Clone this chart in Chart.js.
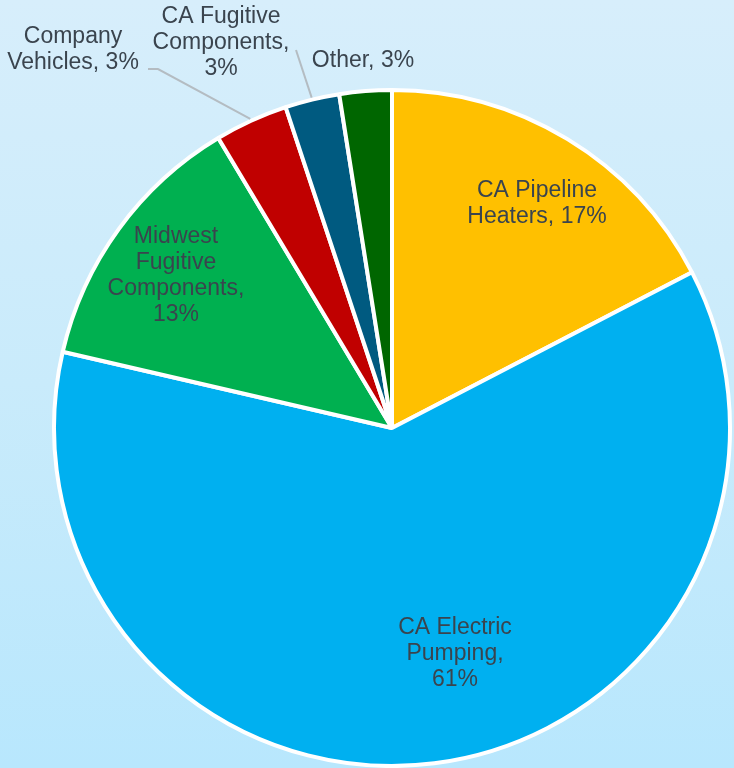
<!DOCTYPE html>
<html>
<head>
<meta charset="utf-8">
<script src="https://cdn.jsdelivr.net/npm/chart.js@4"></script>
<style>
  html, body { margin: 0; padding: 0; }
  body {
    width: 734px; height: 768px; overflow: hidden;
    background: linear-gradient(to bottom, #d7eefb 0%, #c9ebfb 50%, #b8e7fd 100%);
  }
  #wrap { width: 734px; height: 768px; }
</style>
</head>
<body>
<div id="wrap"><canvas id="chart"></canvas></div>
<script>
const categories = [
  "CA Pipeline Heaters",
  "CA Electric Pumping",
  "Midwest Fugitive Components",
  "Company Vehicles",
  "CA Fugitive Components",
  "Other"
];
const shares = [17.4, 61.3, 12.8, 3.5, 2.6, 2.5];
const percentLabels = ["17%", "61%", "13%", "3%", "3%", "3%"];
const colors = ["#ffc000", "#00b0f0", "#00b050", "#c00000", "#005a80", "#006600"];

// label text lines, offsets from pie centre (baseline of first line), leader on/off
const labelLayout = [
  { lines: ["CA Pipeline", "Heaters, 17%"], dx: 145, dy: -231 },
  { lines: ["CA Electric", "Pumping,", "61%"], dx: 63, dy: 206 },
  { lines: ["Midwest", "Fugitive", "Components,", "13%"], dx: -216, dy: -185 },
  { lines: ["Company", "Vehicles, 3%"], dx: -319, dy: -385, leader: [[-244, -359], [-234, -359]] },
  { lines: ["CA Fugitive", "Components,", "3%"], dx: -171, dy: -405, leader: [[-96, -378]] },
  { lines: ["Other, 3%"], dx: -29, dy: -361 }
];

const labelPlugin = {
  id: "pieLabels",
  afterDatasetsDraw(chart) {
    const ctx = chart.ctx;
    const arcs = chart.getDatasetMeta(0).data;
    ctx.save();
    ctx.font = "23px 'Liberation Sans', Arial, sans-serif";
    ctx.fillStyle = "#3a444e";
    ctx.textAlign = "center";
    ctx.textBaseline = "alphabetic";
    arcs.forEach((arc, i) => {
      const L = labelLayout[i];
      const cx = arc.x, cy = arc.y;
      L.lines.forEach((t, k) => {
        ctx.fillText(t, cx + L.dx, cy + L.dy + k * 26);
      });
      if (L.leader) {
        const mid = (arc.startAngle + arc.endAngle) / 2;
        const r = arc.outerRadius + 2;
        ctx.beginPath();
        ctx.strokeStyle = "#b4bcc2";
        ctx.lineWidth = 2;
        ctx.moveTo(cx + L.leader[0][0], cy + L.leader[0][1]);
        for (let j = 1; j < L.leader.length; j++) {
          ctx.lineTo(cx + L.leader[j][0], cy + L.leader[j][1]);
        }
        ctx.lineTo(cx + Math.cos(mid) * r, cy + Math.sin(mid) * r);
        ctx.stroke();
      }
    });
    ctx.restore();
  }
};

new Chart(document.getElementById("chart"), {
  type: "pie",
  data: {
    labels: categories,
    datasets: [{
      data: shares,
      backgroundColor: colors,
      borderColor: "#ffffff",
      borderWidth: 4
    }]
  },
  plugins: [labelPlugin],
  options: {
    responsive: true,
    maintainAspectRatio: false,
    animation: false,
    layout: { padding: { left: 52, right: 2, top: 88, bottom: 0 } },
    plugins: {
      legend: { display: false },
      tooltip: { enabled: false }
    }
  }
});
</script>
</body>
</html>
